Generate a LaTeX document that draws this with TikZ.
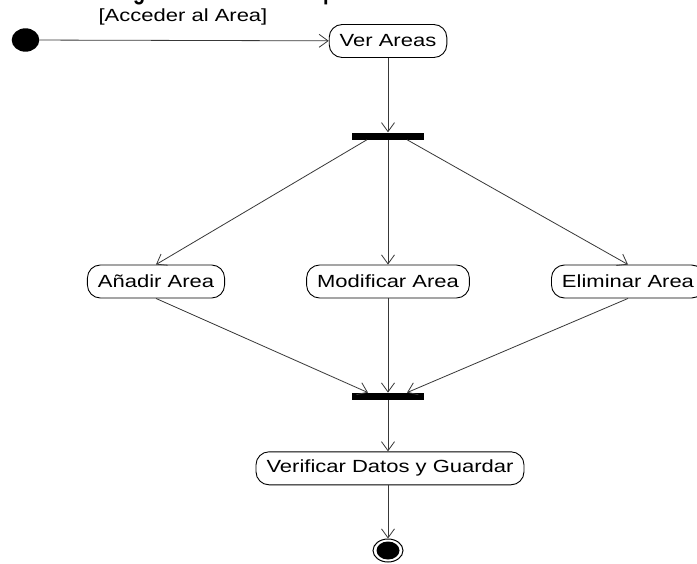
\documentclass[tikz,border=0pt]{standalone}
\usepackage{fontspec}
\setmainfont{Liberation Sans}
\usetikzlibrary{arrows.meta,shapes.geometric}

% text is set slightly compressed in height
\newcommand{\sq}[1]{\scalebox{1}[0.8]{#1}}
\newcommand{\actfont}{\fontsize{22}{26}\selectfont}

\tikzset{
  activity/.style={draw=black, line width=0.9pt, fill=white, rounded corners=13pt,
    minimum height=33pt, inner xsep=10.5pt, inner ysep=0pt, font=\actfont},
  syncbar/.style={fill=black, minimum width=72pt, minimum height=7pt, inner sep=0pt},
  flow/.style={draw=black!78, line width=0.8pt,
    -{Straight Barb[length=9pt,width=13pt,line width=0.8pt]}},
  guardlabel/.style={font=\actfont, inner sep=0pt}
}

\begin{document}
\begin{tikzpicture}[x=1pt,y=-1pt]
  \useasboundingbox (0,0) rectangle (697,563);
  \clip (0,0) rectangle (697,563);
  \fill[white] (0,0) rectangle (697,563);

  % title, sitting above the top edge so that only its descenders show
  \node[anchor=base west, inner sep=0pt, font=\bfseries\fontsize{20}{24}\selectfont]
    (title) at (101.8,-0.8) {\scalebox{1}[1.3]{Diagrama de Actividad para Areas}};

  % start and end states
  \node (init) [ellipse, fill=black, minimum width=27.6pt, minimum height=23.4pt, inner sep=0pt] at (25.5,40) {};
  \node (fin) [ellipse, draw=black, line width=1pt, fill=white, minimum width=30pt, minimum height=23pt, inner sep=0pt] at (388,550.5) {};
  \fill[black] (fin.center) ellipse [x radius=11.5pt, y radius=9pt];

  % activities
  \node (ver)   [activity] at (388,41)    {\sq{Ver Areas}};
  \node (anad)  [activity] at (156,281.5) {\sq{Añadir Area}};
  \node (modif) [activity] at (388,281.5) {\sq{Modificar Area}};
  \node (elim)  [activity] at (628,281.5) {\sq{Eliminar Area}};
  \node (verif) [activity] at (390,468.3) {\sq{Verificar Datos y Guardar}};

  % fork and join bars
  \node (fork) [syncbar] at (388,136) {};
  \node (join) [syncbar] at (388,396.3) {};

  % guard on the initial transition
  \node (guard) [guardlabel] at (183,16.5) {\sq{[Acceder al Area]}};

  % transitions
  \draw[flow] (init) -- (ver);
  \draw[flow] (ver) -- (fork);
  \draw[flow] ([xshift=-21pt]fork.south) -- (anad.north);
  \draw[flow] (fork) -- (modif);
  \draw[flow] ([xshift=19pt]fork.south) -- (elim.north);
  \draw[flow] (anad.south) -- ([xshift=-20pt]join.north);
  \draw[flow] (modif) -- (join);
  \draw[flow] (elim.south) -- ([xshift=19pt]join.north);
  \draw[flow] (join.south) -- (join.south |- verif.north);
  \draw[flow] (verif.south -| fin.north) -- (fin.north);
\end{tikzpicture}
\end{document}
